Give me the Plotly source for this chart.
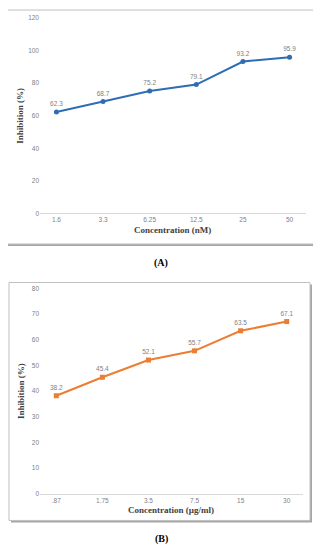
import plotly.graph_objects as go

W, H = 321, 550
OFF = 8  # browser default body margin

conc_a = ["1.6", "3.3", "6.25", "12.5", "25", "50"]
inhib_a = [62.3, 68.7, 75.2, 79.1, 93.2, 95.9]
ticks_a = [0, 20, 40, 60, 80, 100, 120]

conc_b = [".87", "1.75", "3.5", "7.5", "15", "30"]
inhib_b = [38.2, 45.4, 52.1, 55.7, 63.5, 67.1]
ticks_b = [0, 10, 20, 30, 40, 50, 60, 70, 80]

def px(x):
    return (x - OFF) / W

def py(y):
    return 1 - (y - OFF) / H

tick_font = dict(family="Liberation Sans", size=6.5, color="#7f7f7f")
title_font = dict(family="Liberation Serif", size=9, color="#404040")

fig = go.Figure()

fig.add_trace(go.Scatter(
    x=conc_a, y=inhib_a, mode="lines+markers+text",
    text=[f"{v:.1f}" for v in inhib_a], textposition="top center",
    textfont=dict(family="Liberation Sans", size=6.5, color="#7f7f7f"),
    line=dict(color="#2E6DB4", width=2), marker=dict(size=5, color="#2E6DB4", symbol="circle"),
    xaxis="x", yaxis="y", cliponaxis=False, showlegend=False))

fig.add_trace(go.Scatter(
    x=conc_b, y=inhib_b, mode="lines+markers+text",
    text=[f"{v:.1f}" for v in inhib_b], textposition="top center",
    textfont=dict(family="Liberation Sans", size=6.5, color="#7f7f7f"),
    line=dict(color="#ED7D31", width=2), marker=dict(size=5, color="#ED7D31", symbol="square"),
    xaxis="x2", yaxis="y2", cliponaxis=False, showlegend=False))

common_x = dict(type="category", showgrid=False, zeroline=False, showline=True,
                linecolor="#d9d9d9", linewidth=1, ticks="", tickfont=tick_font, fixedrange=True)
common_y = dict(showgrid=False, zeroline=False, showline=False, ticks="", tickfont=tick_font,
                fixedrange=True)

fig.update_layout(
    width=W, height=H, margin=dict(l=0, r=0, t=0, b=0),
    paper_bgcolor="white", plot_bgcolor="rgba(0,0,0,0)",
    xaxis=dict(domain=[px(40), px(306)], anchor="y", **common_x),
    yaxis=dict(domain=[py(212), py(14)], range=[0, 120], tickvals=ticks_a, anchor="x", **common_y),
    xaxis2=dict(domain=[px(40), px(303)], anchor="y2", **common_x),
    yaxis2=dict(domain=[py(496), py(288)], range=[0, 80], tickvals=ticks_b, anchor="x2", **common_y),
)

shapes = []
for (x0, y0, x1, y1) in [(5, 6, 315, 243), (9, 282, 310, 523)]:
    shapes.append(dict(type="rect", xref="paper", yref="paper",
                       x0=px(x0 + 2), x1=px(x1 + 2), y0=py(y1 + 2), y1=py(y0 + 2),
                       fillcolor="#a6a6a6", line=dict(width=0), layer="below"))
    shapes.append(dict(type="rect", xref="paper", yref="paper",
                       x0=px(x0), x1=px(x1), y0=py(y1), y1=py(y0),
                       fillcolor="white", line=dict(color="#bfbfbf", width=1), layer="below"))
fig.update_layout(shapes=shapes)

ann = [
    dict(text="<b>Inhibition (%)</b>", x=px(20), y=py(113), textangle=-90, font=title_font),
    dict(text="<b>Concentration (nM)</b>", x=px(173), y=py(229), font=title_font),
    dict(text="<b>(A)</b>", x=px(161), y=py(262), font=dict(family="Liberation Serif", size=10, color="black")),
    dict(text="<b>Inhibition (%)</b>", x=px(21), y=py(392), textangle=-90, font=title_font),
    dict(text="<b>Concentration (µg/ml)</b>", x=px(171), y=py(512), font=title_font),
    dict(text="<b>(B)</b>", x=px(161), y=py(542), font=dict(family="Liberation Serif", size=10, color="black")),
]
for a in ann:
    a.update(xref="paper", yref="paper", showarrow=False, xanchor="center", yanchor="middle")
fig.update_layout(annotations=ann)

fig.write_html("out.html")
